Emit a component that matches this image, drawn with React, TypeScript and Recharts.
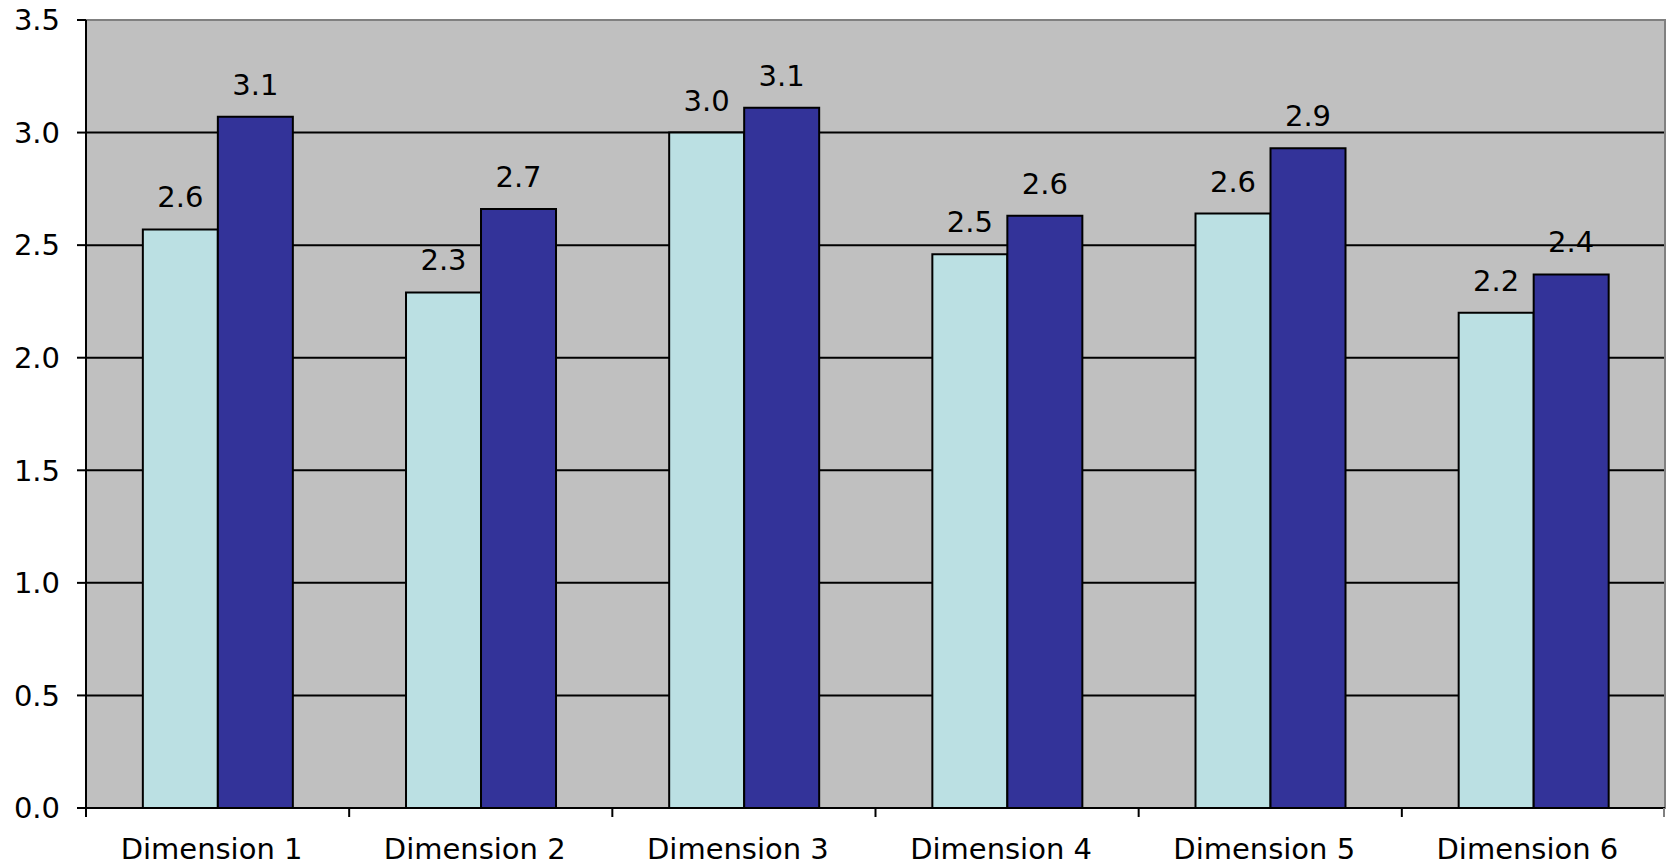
import React from 'react';
import { BarChart, Bar, XAxis, YAxis, CartesianGrid, LabelList, ReferenceArea } from 'recharts';

const categories = ['Dimension 1', 'Dimension 2', 'Dimension 3', 'Dimension 4', 'Dimension 5', 'Dimension 6'];
const seriesA = [2.57, 2.29, 3.0, 2.46, 2.64, 2.2];
const seriesB = [3.07, 2.66, 3.11, 2.63, 2.93, 2.37];
const yTicks = [0, 0.5, 1.0, 1.5, 2.0, 2.5, 3.0, 3.5];

const data = categories.map((c, i) => ({ name: c, a: seriesA[i], b: seriesB[i] }));

const W = 1666;
const H = 866;
const MARGIN = { top: 20, right: 1, bottom: 0, left: 0 };
const Y_W = 86;
const X_H = 58;
const FONT = '"DejaVu Sans", Verdana, sans-serif';
const FS = 29;
const BAND = (W - MARGIN.left - MARGIN.right - Y_W) / categories.length;

const XTick = (props: any) => {
  const { x, y, payload, index } = props;
  const left = x - BAND / 2;
  const right = x + BAND / 2;
  return (
    <g>
      <line x1={left} x2={left} y1={y - 9} y2={y} stroke="#000" strokeWidth={2} />
      {index === categories.length - 1 && (
        <line x1={right - 1} x2={right - 1} y1={y - 9} y2={y} stroke="#808080" strokeWidth={2} />
      )}
      <text x={x - 6} y={y + 42} textAnchor="middle" fontSize={FS} fontFamily={FONT} fill="#000">
        {payload.value}
      </text>
    </g>
  );
};

export default function App() {
  return (
    <div style={{ position: 'absolute', left: 0, top: 0, width: W, height: H, background: '#fff' }}>
      <BarChart width={W} height={H} data={data} margin={MARGIN} barCategoryGap="21.6%" barGap={0}>
        <CartesianGrid vertical={false} fill="#c0c0c0" stroke="#000" strokeWidth={2} fillOpacity={1} />
        <ReferenceArea y1={0} y2={3.5} fill="none" stroke="#808080" strokeWidth={2} ifOverflow="visible" />
        <XAxis
          dataKey="name"
          height={X_H}
          axisLine={{ stroke: '#000', strokeWidth: 2 }}
          tickLine={false}
          tickSize={9}
          tickMargin={0}
          tick={<XTick />}
          interval={0}
        />
        <YAxis
          width={Y_W}
          domain={[0, 3.5]}
          ticks={yTicks}
          interval={0}
          tickFormatter={(v: number) => v.toFixed(1)}
          axisLine={{ stroke: '#000', strokeWidth: 2 }}
          tickLine={{ stroke: '#000', strokeWidth: 2 }}
          tickSize={9}
          tickMargin={17}
          tick={{ fontSize: FS, fontFamily: FONT, fill: '#000' }}
        />
        <Bar dataKey="a" fill="#bbe0e3" stroke="#000" strokeWidth={2} isAnimationActive={false}>
          <LabelList dataKey="a" position="top" offset={22} formatter={(v: any) => Number(v).toFixed(1)} style={{ fontSize: FS, fontFamily: FONT, fill: '#000' }} />
        </Bar>
        <Bar dataKey="b" fill="#333399" stroke="#000" strokeWidth={2} isAnimationActive={false}>
          <LabelList dataKey="b" position="top" offset={22} formatter={(v: any) => Number(v).toFixed(1)} style={{ fontSize: FS, fontFamily: FONT, fill: '#000' }} />
        </Bar>
      </BarChart>
    </div>
  );
}
